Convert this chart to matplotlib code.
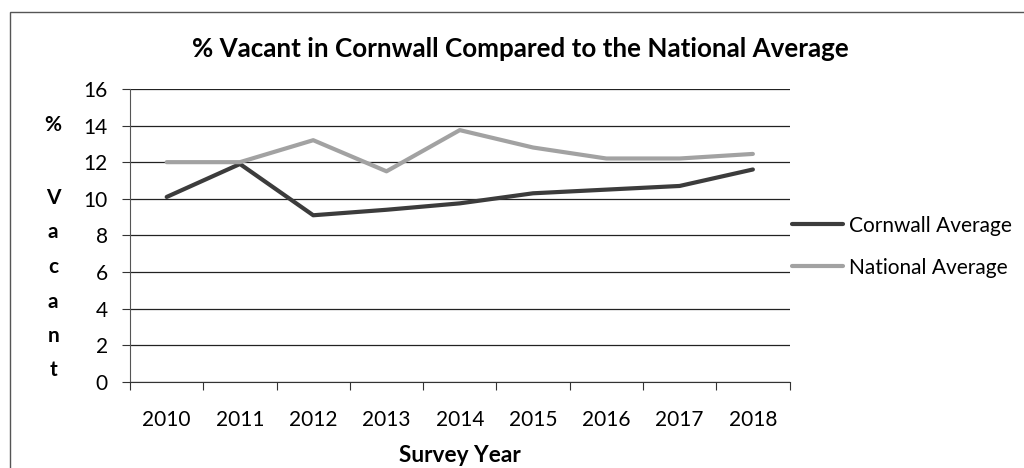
import matplotlib.pyplot as plt
from matplotlib.patches import Rectangle

years = ['2010', '2011', '2012', '2013', '2014', '2015', '2016', '2017', '2018']
cornwall = [10.1, 11.9, 9.1, 9.4, 9.75, 10.3, 10.5, 10.7, 11.6]
national = [12.0, 12.0, 13.2, 11.5, 13.75, 12.8, 12.2, 12.2, 12.45]
y_ticks = [0, 2, 4, 6, 8, 10, 12, 14, 16]

plt.rcParams['font.family'] = ['Lato', 'DejaVu Sans']

fig = plt.figure(figsize=(10.24, 4.68), dpi=100)
ax = fig.add_axes([0.127, 0.184, 0.644, 0.626])

x = list(range(len(years)))
ax.plot(x, cornwall, color='#3c3c3c', linewidth=3, label='Cornwall Average', solid_capstyle='round')
ax.plot(x, national, color='#a2a2a2', linewidth=3, label='National Average', solid_capstyle='round')

ax.set_xlim(-0.5, len(years) - 0.5)
ax.set_ylim(0, 16)
ax.set_yticks(y_ticks)
ax.set_xticks(x)
ax.set_xticklabels(years)
# ticks between categories, like a spreadsheet chart
ax.set_xticks([i - 0.5 for i in range(len(years) + 1)], minor=True)
ax.tick_params(axis='x', which='major', length=0, pad=20, labelsize=15)
ax.tick_params(axis='x', which='minor', length=6, width=0.8, color='#333333')
ax.tick_params(axis='y', length=6, width=0.8, color='#333333', labelsize=15, pad=10)

ax.grid(axis='y', color='#222222', linewidth=0.9)
ax.set_axisbelow(True)
for side in ['top', 'right']:
    ax.spines[side].set_visible(False)
ax.spines['left'].set_color('#555555')
ax.spines['bottom'].set_color('#333333')

fig.text(0.508, 0.895, '% Vacant in Cornwall Compared to the National Average',
         fontsize=18.7, fontweight='bold', ha='center', va='center')
ax.set_xlabel('Survey Year', fontsize=16.3, fontweight='bold', labelpad=11)

# stacked y label
fig.text(0.052, 1 - 125 / 468, '%', fontsize=15, fontweight='bold', ha='center', va='center')
for i, ch in enumerate('Vacant'):
    fig.text(0.052, 1 - (198 + i * 34.5) / 468, ch, fontsize=15, fontweight='bold',
             ha='center', va='center')

ax.legend(loc='center left', bbox_to_anchor=(792 / 1024, 0.473), bbox_transform=fig.transFigure,
          frameon=False, fontsize=15, handlelength=2.45, handletextpad=0.3,
          labelspacing=1.05, borderpad=0, borderaxespad=0)

# outer chart border
fig.patches.append(Rectangle((0.01, -0.05), 1.0, 1.024, transform=fig.transFigure,
                             fill=False, edgecolor='#555555', linewidth=1))

fig.savefig('out.png', dpi=100)
